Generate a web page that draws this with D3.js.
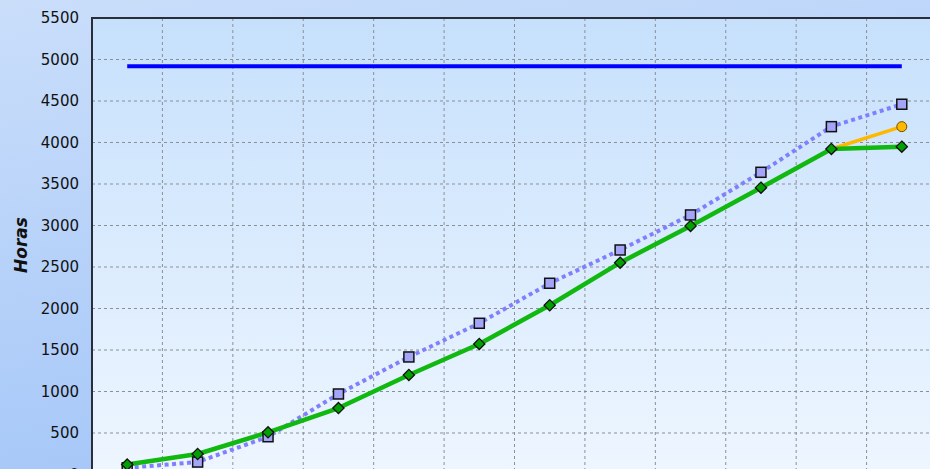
<!DOCTYPE html>
<html>
<head>
<meta charset="utf-8">
<script src="https://cdn.jsdelivr.net/npm/d3@7"></script>
<style>
  html, body { margin: 0; padding: 0; overflow: hidden; background: #c8dcf8; }
</style>
</head>
<body>
<div id="chart"></div>
<script>
// Data
const months = ["Ene", "Feb", "Mar", "Abr", "May", "Jun", "Jul", "Ago", "Sep", "Oct", "Nov", "Dic"];
const yTicks = [0, 500, 1000, 1500, 2000, 2500, 3000, 3500, 4000, 4500, 5000, 5500];
const meta = [4920, 4920, 4920, 4920, 4920, 4920, 4920, 4920, 4920, 4920, 4920, 4920];
const previsto = [80, 150, 455, 970, 1416, 1822, 2304, 2705, 3127, 3641, 4191, 4461];
const real = [120, 247, 508, 801, 1199, 1573, 2039, 2552, 2995, 3456, 3922, 3950];
const proyeccion = [null, null, null, null, null, null, null, null, null, null, 3922, 4191];

const width = 930, height = 469;
const plot = { left: 92, top: 18, right: 937, bottom: 474.5 };

const svg = d3.select("#chart").append("svg")
  .attr("width", width)
  .attr("height", height)
  .style("display", "block");

const defs = svg.append("defs");
const bgGrad = defs.append("linearGradient").attr("id", "bg")
  .attr("x1", 0).attr("y1", 0).attr("x2", 0.35).attr("y2", 1);
bgGrad.append("stop").attr("offset", 0).attr("stop-color", "#cadefa");
bgGrad.append("stop").attr("offset", 1).attr("stop-color", "#a4c6f8");

const plotGrad = defs.append("linearGradient").attr("id", "plotbg")
  .attr("x1", 0).attr("y1", 0).attr("x2", 0).attr("y2", 1);
plotGrad.append("stop").attr("offset", 0).attr("stop-color", "#c6e0fc");
plotGrad.append("stop").attr("offset", 1).attr("stop-color", "#eef6ff");

svg.append("rect").attr("width", width).attr("height", height).attr("fill", "url(#bg)");

// Scales
const x = d3.scaleBand().domain(months).range([plot.left, plot.right]);
const y = d3.scaleLinear().domain([0, 5500]).range([plot.bottom, plot.top]);
const cx = d => x(d) + x.bandwidth() / 2;

svg.append("rect")
  .attr("x", plot.left).attr("y", plot.top)
  .attr("width", plot.right - plot.left).attr("height", plot.bottom - plot.top)
  .attr("fill", "url(#plotbg)");

// Grid
svg.append("g").selectAll("line")
  .data(yTicks.filter(t => t > 0 && t < 5500))
  .join("line")
  .attr("x1", plot.left).attr("x2", plot.right)
  .attr("y1", d => y(d)).attr("y2", d => y(d))
  .attr("stroke", "#8a8f98").attr("stroke-width", 1)
  .attr("stroke-dasharray", "3,3");

svg.append("g").selectAll("line")
  .data(months.slice(1))
  .join("line")
  .attr("x1", d => x(d)).attr("x2", d => x(d))
  .attr("y1", plot.top).attr("y2", plot.bottom)
  .attr("stroke", "#8a8f98").attr("stroke-width", 1)
  .attr("stroke-dasharray", "3,3");

// Border
svg.append("path")
  .attr("d", `M${plot.left},${plot.bottom}V${plot.top}H${plot.right}`)
  .attr("fill", "none").attr("stroke", "#2a2e38").attr("stroke-width", 2);

// Y axis labels
const yAxis = d3.axisLeft(y).tickValues(yTicks).tickFormat(d3.format("d")).tickSize(0).tickPadding(13);
const ya = svg.append("g").attr("transform", `translate(${plot.left},0)`).call(yAxis);
ya.select(".domain").remove();
ya.selectAll("text")
  .attr("font-family", "DejaVu Sans, Verdana, sans-serif")
  .attr("font-size", 15)
  .attr("fill", "#111");

svg.append("text")
  .attr("transform", "translate(27,245) rotate(-90)")
  .attr("text-anchor", "middle")
  .attr("font-family", "DejaVu Sans, Verdana, sans-serif")
  .attr("font-size", 17).attr("font-weight", "bold").attr("font-style", "italic")
  .attr("fill", "#111")
  .text("Horas");

// Lines
const line = d3.line()
  .defined(d => d.v != null)
  .x(d => cx(d.m)).y(d => y(d.v));
const pts = arr => months.map((m, i) => ({ m, v: arr[i] }));

svg.append("path").datum(pts(meta))
  .attr("d", line).attr("fill", "none")
  .attr("stroke", "#0000ff").attr("stroke-width", 4);

svg.append("path").datum(pts(previsto))
  .attr("d", line).attr("fill", "none")
  .attr("stroke", "#8080ff").attr("stroke-width", 4)
  .attr("stroke-dasharray", "4,3.5");

svg.append("path").datum(pts(proyeccion))
  .attr("d", line).attr("fill", "none")
  .attr("stroke", "#ffb800").attr("stroke-width", 3.5);

svg.append("path").datum(pts(real))
  .attr("d", line).attr("fill", "none")
  .attr("stroke", "#10b810").attr("stroke-width", 4.5)
  .attr("stroke-linejoin", "round");

// Markers
svg.append("g").selectAll("rect")
  .data(pts(previsto))
  .join("rect")
  .attr("x", d => cx(d.m) - 5).attr("y", d => y(d.v) - 5)
  .attr("width", 10).attr("height", 10)
  .attr("fill", "#a4a4f8").attr("stroke", "#111").attr("stroke-width", 1.5);

svg.append("g").selectAll("circle")
  .data(pts(proyeccion).slice(-1))
  .join("circle")
  .attr("cx", d => cx(d.m)).attr("cy", d => y(d.v)).attr("r", 5)
  .attr("fill", "#ffb800").attr("stroke", "#6a5000").attr("stroke-width", 1);

svg.append("g").selectAll("path")
  .data(pts(real))
  .join("path")
  .attr("d", d3.symbol(d3.symbolDiamond2, 80))
  .attr("transform", d => `translate(${cx(d.m)},${y(d.v)})`)
  .attr("fill", "#00a000").attr("stroke", "#111").attr("stroke-width", 1.3);
</script>
</body>
</html>
